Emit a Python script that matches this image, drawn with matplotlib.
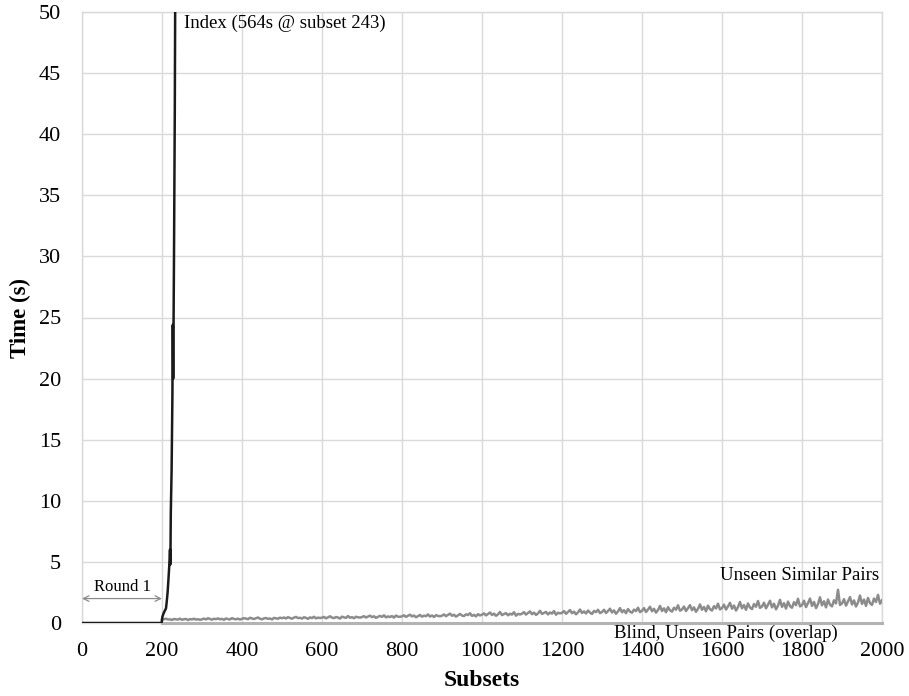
import matplotlib
matplotlib.use("Agg")
import matplotlib.pyplot as plt

# Index approach: time per subset (s), goes off chart after ~234
index_x = [0, 199, 201, 204, 207, 210, 212, 214, 216, 218, 220, 221, 222, 224, 226, 227, 228, 230, 232, 234, 243]
index_y = [0, 0, 0.5, 0.8, 1.0, 1.2, 1.8, 2.5, 3.5, 4.6, 6.0, 4.8, 9.0, 12.5, 18.5, 24.4, 20.0, 30.0, 42.0, 60.0, 564.0]

# Unseen Similar Pairs, one value every 5 subsets from 200 to 2000 (rows = 100 subsets)
unseen_start, unseen_step = 200, 5
unseen_y = [
    0.27, 0.31, 0.35, 0.29, 0.30, 0.25, 0.33, 0.30, 0.28, 0.36, 0.26, 0.31, 0.33, 0.24, 0.32, 0.29, 0.35, 0.28, 0.31, 0.26,
    0.30, 0.36, 0.29, 0.39, 0.33, 0.27, 0.35, 0.31, 0.38, 0.30, 0.34, 0.26, 0.37, 0.32, 0.29, 0.40, 0.33, 0.30, 0.36, 0.28,
    0.34, 0.40, 0.36, 0.31, 0.43, 0.37, 0.33, 0.39, 0.45, 0.35, 0.30, 0.38, 0.41, 0.34, 0.37, 0.29, 0.42, 0.38, 0.35, 0.44,
    0.39, 0.45, 0.37, 0.48, 0.41, 0.35, 0.44, 0.50, 0.40, 0.43, 0.36, 0.47, 0.42, 0.34, 0.46, 0.40, 0.51, 0.38, 0.44, 0.41,
    0.43, 0.50, 0.38, 0.47, 0.55, 0.44, 0.40, 0.49, 0.45, 0.36, 0.52, 0.46, 0.42, 0.57, 0.43, 0.48, 0.39, 0.51, 0.47, 0.44,
    0.49, 0.56, 0.45, 0.53, 0.60, 0.48, 0.55, 0.42, 0.51, 0.58, 0.50, 0.63, 0.46, 0.54, 0.49, 0.57, 0.44, 0.61, 0.52, 0.50,
    0.55, 0.63, 0.50, 0.59, 0.68, 0.54, 0.61, 0.47, 0.57, 0.66, 0.52, 0.60, 0.56, 0.70, 0.53, 0.62, 0.49, 0.64, 0.58, 0.55,
    0.60, 0.70, 0.56, 0.66, 0.77, 0.59, 0.68, 0.52, 0.63, 0.74, 0.61, 0.57, 0.71, 0.65, 0.80, 0.58, 0.67, 0.54, 0.72, 0.62,
    0.68, 0.79, 0.62, 0.74, 0.86, 0.66, 0.77, 0.59, 0.71, 0.90, 0.65, 0.73, 0.81, 0.63, 0.76, 0.69, 0.88, 0.60, 0.75, 0.70,
    0.76, 0.89, 0.69, 0.82, 0.95, 0.72, 0.85, 0.66, 0.79, 1.00, 0.74, 0.83, 0.91, 0.70, 0.86, 0.77, 0.98, 0.68, 0.84, 0.79,
    0.83, 0.98, 0.75, 0.90, 1.06, 0.80, 0.93, 0.71, 0.87, 1.10, 0.82, 0.95, 0.78, 1.02, 0.85, 0.74, 0.99, 0.89, 1.08, 0.81,
    0.90, 1.08, 0.82, 0.98, 1.17, 0.86, 1.03, 0.76, 0.95, 1.22, 0.88, 1.05, 0.80, 1.14, 0.93, 0.84, 1.10, 0.97, 1.25, 0.89,
    1.00, 1.22, 0.90, 1.10, 1.33, 0.96, 1.16, 0.85, 1.06, 1.40, 0.98, 1.20, 0.88, 1.29, 1.04, 0.93, 1.25, 1.09, 1.45, 1.01,
    1.10, 1.35, 0.98, 1.21, 1.46, 1.05, 1.28, 0.92, 1.16, 1.52, 1.08, 1.31, 0.96, 1.42, 1.13, 1.02, 1.38, 1.19, 1.58, 1.11,
    1.22, 1.50, 1.10, 1.36, 1.65, 1.17, 1.43, 1.02, 1.30, 1.72, 1.20, 1.47, 1.08, 1.60, 1.26, 1.14, 1.55, 1.33, 1.80, 1.24,
    1.35, 1.66, 1.20, 1.50, 1.82, 1.28, 1.58, 1.12, 1.42, 1.90, 1.32, 1.62, 1.18, 1.75, 1.38, 1.25, 1.70, 1.46, 1.98, 1.36,
    1.46, 1.82, 1.30, 1.63, 2.00, 1.40, 1.72, 1.22, 1.55, 2.10, 1.44, 1.78, 1.28, 1.92, 1.50, 1.36, 1.86, 1.60, 2.72, 1.48,
    1.60, 1.95, 1.42, 1.76, 2.12, 1.52, 1.85, 1.35, 1.68, 2.25, 1.56, 1.92, 1.40, 2.05, 1.62, 1.48, 2.00, 1.72, 2.30, 1.58,
    1.85,
]
unseen_x = [unseen_start + i * unseen_step for i in range(len(unseen_y))]

# Blind, Unseen Pairs: stays at ~0 (overlaps the axis)
blind_x = [200, 2000]
blind_y = [0, 0]

x_ticks = list(range(0, 2001, 200))
y_ticks = list(range(0, 51, 5))

plt.rcParams['font.family'] = ['Liberation Serif', 'DejaVu Serif']

fig = plt.figure(figsize=(9.09, 6.96), dpi=100)
ax = fig.add_axes([82 / 909, 73 / 696, 800 / 909, 611 / 696])

grid_color = '#d9d9d9'

ax.plot(blind_x, blind_y, color='#b3b3b3', linewidth=2.2, clip_on=False, zorder=3)
ax.plot(unseen_x, unseen_y, color='#8c8c8c', linewidth=1.8, zorder=4)
ax.plot(index_x, index_y, color='#1a1a1a', linewidth=1.8, zorder=5)

ax.set_xlim(0, 2000)
ax.set_ylim(0, 50)
ax.set_xticks(x_ticks)
ax.set_yticks(y_ticks)
ax.tick_params(length=0, labelsize=16)
ax.tick_params(axis='x', pad=14)
ax.tick_params(axis='y', pad=15)
ax.grid(True, color=grid_color, linewidth=1)
ax.set_axisbelow(True)
for s in ax.spines.values():
    s.set_color(grid_color)
    s.set_linewidth(1)

ax.set_xlabel('Subsets', fontsize=17, fontweight='bold')
ax.xaxis.set_label_coords(0.5, -0.077)
ax.set_ylabel('Time (s)', fontsize=16.5, fontweight='bold')
ax.yaxis.set_label_coords(-0.064, 0.5)

# annotations
ax.text(255, 49.1, 'Index (564s @ subset 243)', fontsize=13.5, va='center', ha='left')
ax.text(1993, 3.85, 'Unseen Similar Pairs', fontsize=13.5, va='center', ha='right')
ax.text(1610, -0.85, 'Blind, Unseen Pairs (overlap)', fontsize=13.5, va='center', ha='center')
ax.annotate('', xy=(0, 2.0), xytext=(200, 2.0),
            arrowprops=dict(arrowstyle='<->', color='#8c8c8c', linewidth=0.9,
                            shrinkA=0, shrinkB=0))
ax.text(102, 2.95, 'Round 1', fontsize=12, va='center', ha='center')

fig.savefig('out.png', dpi=100)
